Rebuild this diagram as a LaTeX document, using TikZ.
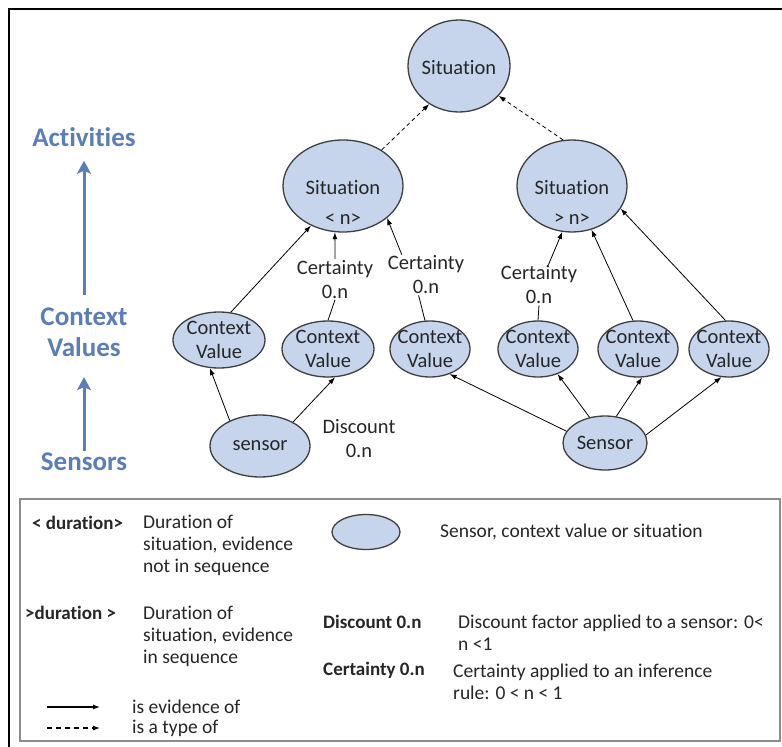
\documentclass[tikz,border=0pt]{standalone}
\usepackage{fontspec}
\setmainfont{Carlito}[Ligatures=NoCommon]
\usepackage{xcolor}
\usepackage{tikz}
\usetikzlibrary{arrows.meta,shapes.geometric}

\definecolor{bubble}{HTML}{C6D5EC}
\definecolor{rim}{HTML}{3F3F3F}
\definecolor{levelblue}{HTML}{5A7EB9}
\definecolor{boxgray}{HTML}{8C8C8C}

\begin{document}
\begin{tikzpicture}[x=1pt,y=-1pt,
  bub/.style={ellipse,draw=rim,line width=1.3pt,fill=bubble,inner sep=0pt},
  txt/.style={font=\fontsize{20.5}{24}\selectfont,text=black!85,align=center,inner sep=1pt},
  every label/.style={font=\fontsize{20.5}{24}\selectfont,text=black!85,align=center,inner sep=0pt},
  ev/.style={line width=0.8pt,-{Latex[length=7pt,width=5pt]}},
  typ/.style={ev,dash pattern=on 4pt off 3pt},
  level/.style={font=\fontsize{27}{31}\selectfont\bfseries,text=levelblue,align=center,inner sep=2pt},
  up/.style={line width=3pt,draw=levelblue,-{Stealth[length=13pt,width=14pt,inset=3pt]}},
  key/.style={font=\fontsize{19.5}{22}\selectfont,text=black!85,align=left,anchor=west,inner sep=0pt},
  keyb/.style={key,font=\fontsize{19}{22}\selectfont\bfseries}]
  \useasboundingbox (0,0) rectangle (782,747);
  \draw[line width=2pt] (9,747) -- (9,9) -- (782,9);

  % levels on the left
  \node[level] (act) at (84,137) {Activities};
  \node[level] (ctx) at (84,332.5) {Context\\Values};
  \node[level] (sens) at (84,462) {Sensors};
  \draw[up,shorten <=11pt,shorten >=12pt] (ctx) -- (act);
  \draw[up,shorten >=18pt] (sens) -- (ctx);

  % situations
  \node[bub,minimum width=102,minimum height=92,label={[yshift=-2pt]center:Situation}] (top) at (459,66) {};
  \node[bub,minimum width=120,minimum height=92,label={[yshift=-2pt]center:Situation},
    label={[yshift=-33pt]center:{< n>}}] (sit1) at (343,186) {};
  \node[bub,minimum width=110,minimum height=92,label={[yshift=-2pt]center:Situation},
    label={[yshift=-33pt]center:{> n>}}] (sit2) at (572,186) {};

  % context values and sensors
  \foreach \n/\x/\y/\w in {cv1/219/340/92, cv2/328/349/92, cv3/430/349/80,
      cv4/538/349/80, cv5/638/349/80, cv6/729/349/80}
    \node[bub,minimum width=\w,minimum height=56,label=center:{Context\\Value}] (\n) at (\x,\y) {};
  \node[bub,minimum width=100,minimum height=62,label=center:sensor] (s1) at (260,446) {};
  \node[bub,minimum width=84,minimum height=54,label=center:Sensor] (s2) at (605,443) {};

  \node[txt] (c1) at (335,279.5) {Certainty\\0.n};
  \node[txt] (c2) at (426,275) {Certainty\\0.n};
  \node[txt] (c3) at (539,285) {Certainty\\0.n};
  \node[txt] (disc) at (359,438.5) {Discount\\0.n};

  \draw[typ] (sit1.43) -- (top.232);
  \draw[typ] (sit2.101) -- (top.323);
  \draw[ev] (cv1.67) -- (sit1.231);
  \draw[line width=0.8pt] (cv2.north) -- (c1.south);
  \draw[ev] (c1.north) -- (sit1.260);
  \draw[line width=0.8pt] (cv3.100) -- (c2.250);
  \draw[ev] (c2.140) -- (sit1.324);
  \draw[line width=0.8pt] (cv4.north) -- (c3.south);
  \draw[ev] (c3.65) -- (sit2.258);
  \draw[ev] (cv5.100) -- (sit2.294);
  \draw[ev] (cv6.97) -- (sit2.335);

  \draw[ev] (s1.140) -- (cv1.252);
  \draw[ev] (s1.36) -- (cv2.284);
  \draw[ev] (s2.163) -- (cv3.308);
  \draw[ev] (s2.121) -- (cv4.308);
  \draw[ev] (s2.67) -- (cv5.278);
  \draw[ev] (s2.11) -- (cv6.255);

  % key
  \draw[boxgray,line width=2pt] (20,499) rectangle (780,741);
  \node[keyb] (k1) at (32,523) {< duration>};
  \node[key] (k1d) at (143,545) {Duration of\\situation, evidence\\not in sequence};
  \node[keyb] (k2) at (25,613) {>duration >};
  \node[key] (k2d) at (143,636) {Duration of\\situation, evidence\\in sequence};
  \coordinate (e0) at (47,707);
  \coordinate (e1) at (100,707);
  \draw[ev,line width=1.2pt] (e0) -- (e1);
  \node[key] (k3) at (132,707) {is evidence of};
  \coordinate (t0) at (47,728);
  \coordinate (t1) at (100,728);
  \draw[typ,line width=1.2pt,dash pattern=on 5pt off 4pt] (t0) -- (t1);
  \node[key] (k4) at (132,728) {is a type of};
  \node[bub,minimum width=68,minimum height=35] (kb) at (366,532) {};
  \node[key] (kbd) at (440,532) {Sensor, context value or situation};
  \node[keyb] (k5) at (323,622) {Discount 0.n};
  \node[key] (k5d) at (458,632.5) {Discount factor applied to a sensor: 0<\\n <1};
  \node[keyb] (k6) at (323,670) {Certainty 0.n};
  \node[key] (k6d) at (453,681.5) {Certainty applied to an inference\\rule: 0 < n < 1};
\end{tikzpicture}
\end{document}
